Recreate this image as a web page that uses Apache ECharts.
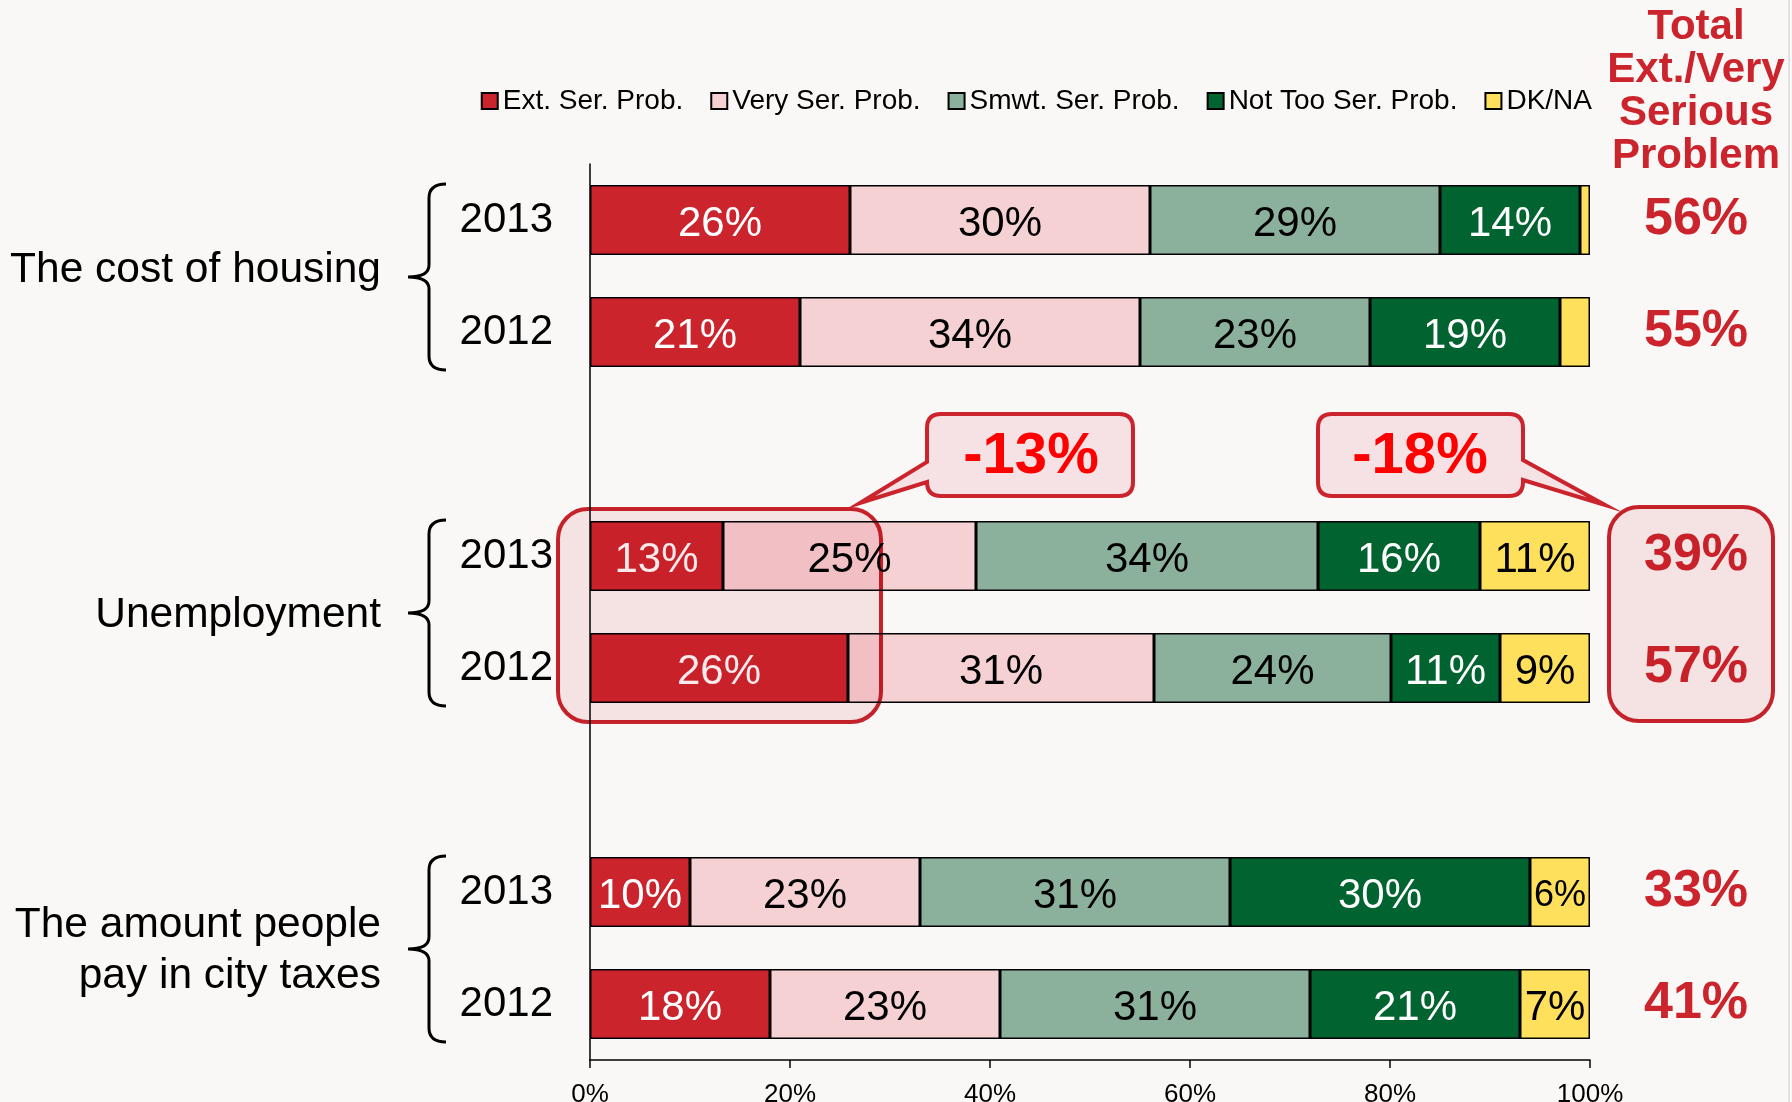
<!DOCTYPE html>
<html>
<head>
<meta charset="utf-8">
<script src="https://cdn.jsdelivr.net/npm/echarts@6/dist/echarts.min.js"></script>
<style>
  html, body { margin: 0; padding: 0; background: #f9f8f6; }
  #main { width: 1792px; height: 1102px; }
</style>
</head>
<body>
<div id="main"></div>
<script>
// rows top to bottom, blank slots separate the three groups
const categories = ['2013', '2012', '', '2013', '2012', '', '2013', '2012'];
const groupNames = ['The cost of housing', 'Unemployment', 'The amount people\npay in city taxes'];
const groupStart = [0, 3, 6];

const extSer = [26, 21, null, 13.3, 25.8, null, 10, 18];
const verySer = [30, 34, null, 25.3, 30.6, null, 23, 23];
const smwtSer = [29, 23, null, 34.2, 23.7, null, 31, 31];
const notTooSer = [14, 19, null, 16.2, 10.9, null, 30, 21];
const dkna = [1, 3, null, 11, 9, null, 6, 7];

const totals = ['56%', '55%', '', '39%', '57%', '', '33%', '41%'];
const xTicks = [0, 20, 40, 60, 80, 100];

const RED = '#cb242d';
const FONT = 'Liberation Sans, Arial, sans-serif';

// free-form outline shape, commands like ['M', x, y], ['Q', cx, cy, x, y], ['L', x, y], ['Z']
echarts.graphic.registerShape('outline', echarts.graphic.extendShape({
  shape: { cmds: [] },
  buildPath: function (ctx, shape) {
    shape.cmds.forEach(c => {
      if (c[0] === 'M') ctx.moveTo(c[1], c[2]);
      else if (c[0] === 'L') ctx.lineTo(c[1], c[2]);
      else if (c[0] === 'Q') ctx.quadraticCurveTo(c[1], c[2], c[3], c[4]);
      else if (c[0] === 'Z') ctx.closePath();
    });
  }
}));

const chartDom = document.getElementById('main');
const myChart = echarts.init(chartDom);

function makeSeries(name, data, color, labelColor) {
  return {
    name: name,
    type: 'bar',
    stack: 'all',
    barWidth: 70,
    data: data.map(v => (v != null && v < 6.5 && v >= 4) ? { value: v, label: { fontSize: 36 } } : v),
    itemStyle: { color: color, borderColor: '#000', borderWidth: 1.5 },
    label: {
      show: true,
      position: 'inside',
      offset: [0, 4],
      fontSize: 42,
      fontFamily: FONT,
      color: labelColor,
      formatter: p => (p.value == null || p.value < 4) ? '' : Math.round(p.value) + '%'
    },
    emphasis: { disabled: true }
  };
}

let option = {
  backgroundColor: '#f9f8f6',
  animation: false,
  textStyle: { fontFamily: FONT },
  legend: {
    right: 200,
    top: 87,
    padding: 0,
    icon: 'rect',
    itemWidth: 16,
    itemHeight: 16,
    itemGap: 27,
    textStyle: { fontSize: 28, color: '#000', fontFamily: FONT, lineHeight: 28 }
  },
  grid: { left: 590, right: 202, top: 164, bottom: 42, outerBoundsMode: 'none' },
  xAxis: {
    type: 'value',
    min: xTicks[0],
    max: xTicks[xTicks.length - 1],
    interval: xTicks[1] - xTicks[0],
    axisLine: { show: true, lineStyle: { color: '#000', width: 1.5 } },
    axisTick: { show: true, length: 8, lineStyle: { color: '#000', width: 1.5 } },
    axisLabel: { formatter: '{value}%', fontSize: 26, color: '#000', margin: 22 },
    splitLine: { show: false }
  },
  yAxis: [
    {
      type: 'category',
      inverse: true,
      data: categories,
      axisLine: { show: true, lineStyle: { color: '#000', width: 1.5 } },
      axisTick: { show: false },
      axisLabel: { interval: 0, fontSize: 42, color: '#000', margin: 37 }
    },
    {
      type: 'category',
      inverse: true,
      position: 'right',
      data: totals,
      axisLine: { show: false },
      axisTick: { show: false },
      axisLabel: { interval: 0, fontSize: 52, fontWeight: 'bold', color: RED, align: 'center', margin: 106, padding: [6, 0, 0, 0] }
    }
  ],
  series: [
    makeSeries('Ext. Ser. Prob.', extSer, '#cb242d', '#fff'),
    makeSeries('Very Ser. Prob.', verySer, '#f5d1d4', '#000'),
    makeSeries('Smwt. Ser. Prob.', smwtSer, '#8bb09c', '#000'),
    makeSeries('Not Too Ser. Prob.', notTooSer, '#006330', '#fff'),
    makeSeries('DK/NA', dkna, '#ffe05c', '#000')
  ]
};

option && myChart.setOption(option);

// annotations: group labels, braces, callouts
function yOf(i) {
  return myChart.convertToPixel({ gridIndex: 0 }, [0, i])[1];
}

function braceCmds(top, bot) {
  const mid = (top + bot) / 2;
  return [
    ['M', 446, top], ['Q', 429, top, 429, top + 14],
    ['L', 429, mid - 12], ['Q', 429, mid, 408, mid],
    ['Q', 429, mid, 429, mid + 12],
    ['L', 429, bot - 14], ['Q', 429, bot, 446, bot]
  ];
}

function calloutCmds(x1, y1, x2, y2, r, side, ty1, ty2, tx, ty) {
  const c = [['M', x1 + r, y1], ['L', x2 - r, y1], ['Q', x2, y1, x2, y1 + r]];
  if (side === 'right') c.push(['L', x2, ty1], ['L', tx, ty], ['L', x2, ty2]);
  c.push(['L', x2, y2 - r], ['Q', x2, y2, x2 - r, y2], ['L', x1 + r, y2], ['Q', x1, y2, x1, y2 - r]);
  if (side === 'left') c.push(['L', x1, ty2], ['L', tx, ty], ['L', x1, ty1]);
  c.push(['L', x1, y1 + r], ['Q', x1, y1, x1 + r, y1], ['Z']);
  return c;
}

const elements = [];

// slide edge
elements.push({ type: 'line', shape: { x1: 1789, y1: 0, x2: 1789, y2: 1102 }, style: { stroke: '#e2e2e2', lineWidth: 2 } });

// header on the right
elements.push({
  type: 'text', x: 1696, y: 92, z: 10,
  style: {
    text: 'Total\nExt./Very\nSerious\nProblem',
    fill: RED, fontSize: 42, fontWeight: 'bold', fontFamily: FONT,
    lineHeight: 43, textAlign: 'center', textVerticalAlign: 'middle'
  }
});

const labelNudge = [-6, 3, 3];
groupStart.forEach((s, k) => {
  const y0 = yOf(s), y1 = yOf(s + 1);
  elements.push({
    type: 'text', x: 381, y: (y0 + y1) / 2 + labelNudge[k],
    style: {
      text: groupNames[k], fill: '#000', fontSize: 42.5, fontFamily: FONT,
      lineHeight: 51, textAlign: 'right', textVerticalAlign: 'middle'
    }
  });
  elements.push({
    type: 'outline',
    shape: { cmds: braceCmds(y0 - 36, y1 + 38) },
    style: { fill: 'none', stroke: '#000', lineWidth: 3 }
  });
});

// highlight boxes on unemployment
const uTop = yOf(3), uBot = yOf(4);
elements.push({
  type: 'rect', z: 100,
  shape: { x: 558, y: uTop - 47, width: 323, height: uBot - uTop + 101, r: 30 },
  style: { fill: '#fbe9ec', stroke: RED, lineWidth: 4, blend: 'multiply' }
});
elements.push({
  type: 'rect', z: 100,
  shape: { x: 1609, y: uTop - 49, width: 164, height: uBot - uTop + 102, r: 30 },
  style: { fill: '#fbe9ec', stroke: RED, lineWidth: 4, blend: 'multiply' }
});

// change callouts
elements.push({
  type: 'outline', z: 100,
  shape: { cmds: calloutCmds(927, 414, 1133, 496, 14, 'left', 462, 482, 860, 503) },
  style: { fill: '#f6e2e4', stroke: RED, lineWidth: 4 }
});
elements.push({
  type: 'text', x: 1031, y: 457, z: 101,
  style: { text: '-13%', fill: '#ff0000', fontSize: 58, fontWeight: 'bold', fontFamily: FONT, textAlign: 'center', textVerticalAlign: 'middle' }
});
elements.push({
  type: 'outline', z: 100,
  shape: { cmds: calloutCmds(1318, 414, 1523, 496, 14, 'right', 460, 480, 1605, 505) },
  style: { fill: '#f6e2e4', stroke: RED, lineWidth: 4 }
});
elements.push({
  type: 'text', x: 1420, y: 457, z: 101,
  style: { text: '-18%', fill: '#ff0000', fontSize: 58, fontWeight: 'bold', fontFamily: FONT, textAlign: 'center', textVerticalAlign: 'middle' }
});

myChart.setOption({ graphic: { elements: elements } });
</script>
</body>
</html>
